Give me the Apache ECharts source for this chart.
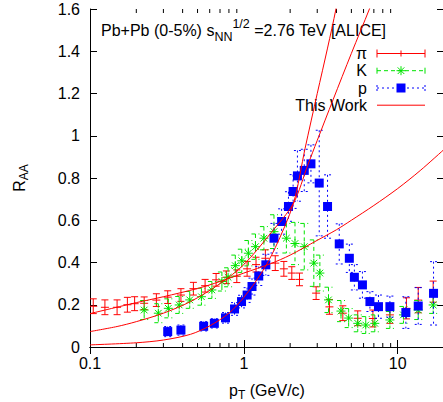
<!DOCTYPE html>
<html><head><meta charset="utf-8">
<script src="https://cdn.jsdelivr.net/npm/echarts@6/dist/echarts.min.js"></script>
<style>html,body{margin:0;padding:0;background:#fff}#c{width:443px;height:402px}</style>
</head><body><div id="c"></div>
<script>
// ---- data ----
const piPt  = [0.105,0.125,0.15,0.175,0.195,0.225,0.27,0.32,0.39,0.47,0.56,0.66,0.77,0.9,1.05,1.2,1.38,1.6,1.82,2.05,2.3,2.95,3.6,4.4,5.5,6.9,8.9,11.4,13.6,17.0];
const piRaa = [0.193,0.188,0.188,0.2,0.205,0.207,0.222,0.236,0.246,0.276,0.29,0.318,0.33,0.335,0.37,0.39,0.42,0.397,0.37,0.35,0.32,0.255,0.19,0.16,0.136,0.135,0.152,0.183,0.222,0.262];
const piErr = [0.035,0.035,0.035,0.035,0.033,0.03,0.03,0.03,0.03,0.03,0.03,0.03,0.03,0.03,0.035,0.035,0.04,0.035,0.035,0.03,0.03,0.03,0.035,0.035,0.035,0.04,0.04,0.05,0.06,0.05];

const kPt  = [0.225,0.278,0.323,0.38,0.445,0.53,0.62,0.72,0.79,0.88,0.97,1.07,1.19,1.35,1.57,1.89,2.15,2.47,2.85,3.12,3.55,4.28,4.8,5.5,6.2,7.1,8.9,10.9,13.6,17.0];
const kRaa = [0.175,0.16,0.183,0.199,0.223,0.238,0.27,0.31,0.33,0.385,0.408,0.444,0.475,0.515,0.546,0.515,0.49,0.475,0.397,0.35,0.223,0.17,0.137,0.112,0.104,0.112,0.128,0.152,0.175,0.199];
const kErr = [0.045,0.045,0.045,0.04,0.04,0.04,0.04,0.045,0.045,0.05,0.055,0.06,0.06,0.055,0.08,0.07,0.1,0.11,0.11,0.085,0.06,0.05,0.045,0.04,0.04,0.04,0.04,0.04,0.045,0.04];

const pPt  = [0.32,0.39,0.548,0.643,0.76,0.87,0.966,1.05,1.13,1.25,1.39,1.57,1.76,1.95,2.09,2.23,2.47,2.73,3.09,3.5,4.17,4.85,5.23,5.9,6.6,7.5,8.9,11.3,13.6,17.1];
const pRaa = [0.073,0.08,0.098,0.112,0.138,0.18,0.215,0.246,0.286,0.336,0.389,0.515,0.594,0.665,0.736,0.81,0.836,0.867,0.776,0.665,0.488,0.42,0.33,0.294,0.215,0.191,0.191,0.163,0.194,0.254];
const pErr = [0.024,0.024,0.022,0.022,0.025,0.03,0.03,0.035,0.04,0.045,0.05,0.07,0.06,0.07,0.08,0.12,0.1,0.09,0.25,0.15,0.095,0.067,0.06,0.063,0.047,0.055,0.05,0.075,0.087,0.15];

// "This Work" curves
const twPiPt  = [0.1,0.2,0.3,0.5,0.7,1,1.5,2,3,4,5,7,10,14,20];
const twPiRaa = [0.158,0.21,0.238,0.277,0.31,0.35,0.395,0.435,0.505,0.555,0.6,0.67,0.75,0.835,0.935];
const twKPt   = [0.1,0.15,0.2,0.3,0.45,0.7,1,1.5,2.1,2.6,3,3.8,5,6.55,7];
const twKRaa  = [0.073,0.097,0.12,0.16,0.215,0.3,0.39,0.54,0.68,0.86,0.978,1.17,1.39,1.6,1.66];
const twPPt   = [0.1,0.2,0.3,0.45,0.6,0.8,1,1.3,1.6,2.1,2.5,3,3.5,3.97,4.2];
const twPRaa  = [0.01,0.02,0.033,0.06,0.1,0.16,0.235,0.35,0.47,0.68,0.94,1.2,1.415,1.6,1.7];

const xTickLabels = [0.1, 1, 10];
const minorTickPos = [0.2,0.3,0.4,0.5,0.6,0.7,0.8,0.9,2,3,4,5,6,7,8,9];
const legendNames = ['π','K','p','This Work'];

// ---- helpers ----
const FONT = '"Liberation Sans", Arial, Helvetica, sans-serif';
const RED = '#ff0000', GREEN = '#00e400', BLUE = '#0000ff';
const tri = (a,b,c) => a.map((v,i)=>[v,b[i],c[i]]);
const pair = (a,b) => a.map((v,i)=>[v,b[i]]);

function ln(x1,y1,x2,y2,color,dash,w){
  return {type:'line', shape:{x1,y1,x2,y2}, style:{stroke:color, lineWidth:w||1, lineDash:dash||null}};
}
function markerShapes(kind, cx, cy, color){
  const out = [];
  if (kind === 'plus') {
    out.push(ln(cx-4,cy,cx+4,cy,color));
  } else if (kind === 'star') {
    const r = 4.5, d = 3.3;
    out.push(ln(cx-r,cy,cx+r,cy,color));
    out.push(ln(cx,cy-r,cx,cy+r,color));
    out.push(ln(cx-d,cy-d,cx+d,cy+d,color));
    out.push(ln(cx-d,cy+d,cx+d,cy-d,color));
  } else if (kind === 'square') {
    out.push({type:'rect', shape:{x:cx-4.5,y:cy-4.5,width:9,height:9}, style:{fill:color}});
  }
  return out;
}
function errBar(color, dash, capW, kind){
  return function(params, api){
    const x = api.value(0), y = api.value(1), e = api.value(2);
    const c = api.coord([x,y]), t = api.coord([x,y+e]), b = api.coord([x,y-e]);
    const h = capW/2;
    const ch = [
      ln(c[0],t[1],c[0],b[1],color,dash),
      ln(c[0]-h,t[1],c[0]+h,t[1],color,dash),
      ln(c[0]-h,b[1],c[0]+h,b[1],color,dash)
    ].concat(markerShapes(kind,c[0],c[1],color));
    return {type:'group', children:ch};
  };
}
function minorTicks(params, api){
  const cs = params.coordSys;
  const x = api.coord([api.value(0), 0])[0];
  const yb = cs.y + cs.height, yt = cs.y;
  return {type:'group', children:[ln(x,yb,x,yb-4,'#000'), ln(x,yt,x,yt+4,'#000')]};
}

// ---- legend (graphic) ----
const lgX1 = 377, lgX2 = 425, lgTextX = 367, lgY = [53.5, 70.7, 88, 105.2];
function legendSample(i){
  const y = lgY[i], mx = (lgX1+lgX2)/2;
  if (i === 0) return [ln(lgX1,y,lgX2,y,RED), ln(lgX1,y-4,lgX1,y+4,RED), ln(lgX2,y-4,lgX2,y+4,RED), ln(mx,y-3,mx,y+3,RED)];
  if (i === 1) return [ln(lgX1,y,lgX2,y,GREEN,[4,3]), ln(lgX1,y-3,lgX1,y+3,GREEN), ln(lgX2,y-3,lgX2,y+3,GREEN)].concat(markerShapes('star',mx,y,GREEN));
  if (i === 2) return [ln(lgX1,y,lgX2,y,BLUE,[2,3]), ln(lgX1,y-3,lgX1,y+3,BLUE,[2,2]), ln(lgX2,y-3,lgX2,y+3,BLUE,[2,2])].concat(markerShapes('square',mx,y,BLUE));
  return [ln(lgX1,y,lgX2,y,RED)];
}
const legendEls = [];
legendNames.forEach((n,i)=>{
  legendEls.push({type:'text', x:lgTextX, y:lgY[i], style:{text:n, align:'right', verticalAlign:'middle', font:'16px '+FONT, fill:'#000'}});
  legendSample(i).forEach(e=>legendEls.push(e));
});

const titleEl = {type:'text', x:101, y:30, style:{
  text:'{a|Pb+Pb (0-5%) s}{sub|NN}{sup|1/2}{a| =2.76 TeV [ALICE]}',
  verticalAlign:'middle', fill:'#000',
  rich:{
    a:{fontSize:16, fontFamily:FONT, lineHeight:26, verticalAlign:'middle', fill:'#000'},
    sub:{fontSize:12.5, fontFamily:FONT, lineHeight:12, verticalAlign:'bottom', fill:'#000'},
    sup:{fontSize:12.5, fontFamily:FONT, lineHeight:12, verticalAlign:'top', fill:'#000'}
  }}};

const axisCommon = {
  axisLine:{show:true, lineStyle:{color:'#000', width:1}},
  splitLine:{show:false}
};
const labelFmtX = v => { const l = Math.log10(v); return Math.abs(l-Math.round(l))<1e-6 ? String(+v.toPrecision(3)) : ''; };

const option = {
  animation:false,
  backgroundColor:'#fff',
  grid:{left:90, right:-1, top:9, bottom:55, outerBoundsMode:'none', containLabel:false},
  xAxis:[
    Object.assign({type:'log', logBase:10, min:0.1, max:20, position:'bottom',
      axisTick:{inside:true, length:7, lineStyle:{color:'#000'}},
      axisLabel:{formatter:labelFmtX, color:'#000', fontSize:16, fontFamily:FONT, margin:8, showMaxLabel:false},
      name:'{a|p}{s|T}{a| (GeV/c)}', nameLocation:'middle', nameGap:32,
      nameTextStyle:{rich:{a:{fontSize:16,fontFamily:FONT,color:'#000',lineHeight:22,verticalAlign:'middle'}, s:{fontSize:12,fontFamily:FONT,color:'#000',lineHeight:12,verticalAlign:'bottom'}}}
    }, axisCommon),
    Object.assign({type:'log', logBase:10, min:0.1, max:20, position:'top',
      axisTick:{inside:true, length:7, lineStyle:{color:'#000'}},
      axisLabel:{show:false}}, axisCommon)
  ],
  yAxis:[
    Object.assign({type:'value', min:0, max:1.6, interval:0.2, position:'left',
      axisTick:{inside:true, length:7, lineStyle:{color:'#000'}},
      axisLabel:{color:'#000', fontSize:16, fontFamily:FONT, margin:10},
      name:'{a|R}{s|AA}', nameLocation:'middle', nameGap:60, nameRotate:90,
      nameTextStyle:{rich:{a:{fontSize:16,fontFamily:FONT,color:'#000',lineHeight:22,verticalAlign:'middle'}, s:{fontSize:12,fontFamily:FONT,color:'#000',lineHeight:12,verticalAlign:'bottom'}}}
    }, axisCommon),
    Object.assign({type:'value', min:0, max:1.6, interval:0.2, position:'right',
      axisTick:{inside:true, length:7, lineStyle:{color:'#000'}},
      axisLabel:{show:false}}, axisCommon)
  ],
  graphic:[titleEl].concat(legendEls),
  series:[
    {type:'custom', name:'minor', data:minorTickPos.map(v=>[v]), encode:{x:0}, renderItem:minorTicks, silent:true, z:1},
    {type:'custom', name:legendNames[0], data:tri(piPt,piRaa,piErr), encode:{x:0,y:1}, clip:true, z:2, renderItem:errBar(RED,null,7,'plus')},
    {type:'custom', name:legendNames[1], data:tri(kPt,kRaa,kErr), encode:{x:0,y:1}, clip:true, z:2, renderItem:errBar(GREEN,[4,3],8,'star')},
    {type:'custom', name:legendNames[2], data:tri(pPt,pRaa,pErr), encode:{x:0,y:1}, clip:true, z:2, renderItem:errBar(BLUE,[2,3],7,'square')},
    {type:'line', name:legendNames[3], data:pair(twPiPt,twPiRaa), symbol:'none', smooth:0.3, clip:true, z:3, lineStyle:{color:RED,width:1}},
    {type:'line', name:legendNames[3], data:pair(twKPt,twKRaa), symbol:'none', smooth:0.3, clip:true, z:3, lineStyle:{color:RED,width:1}},
    {type:'line', name:legendNames[3], data:pair(twPPt,twPRaa), symbol:'none', smooth:0.3, clip:true, z:3, lineStyle:{color:RED,width:1}}
  ]
};
const chart = echarts.init(document.getElementById('c'), null, {renderer:'svg'});
chart.setOption(option);
</script>
</body></html>
